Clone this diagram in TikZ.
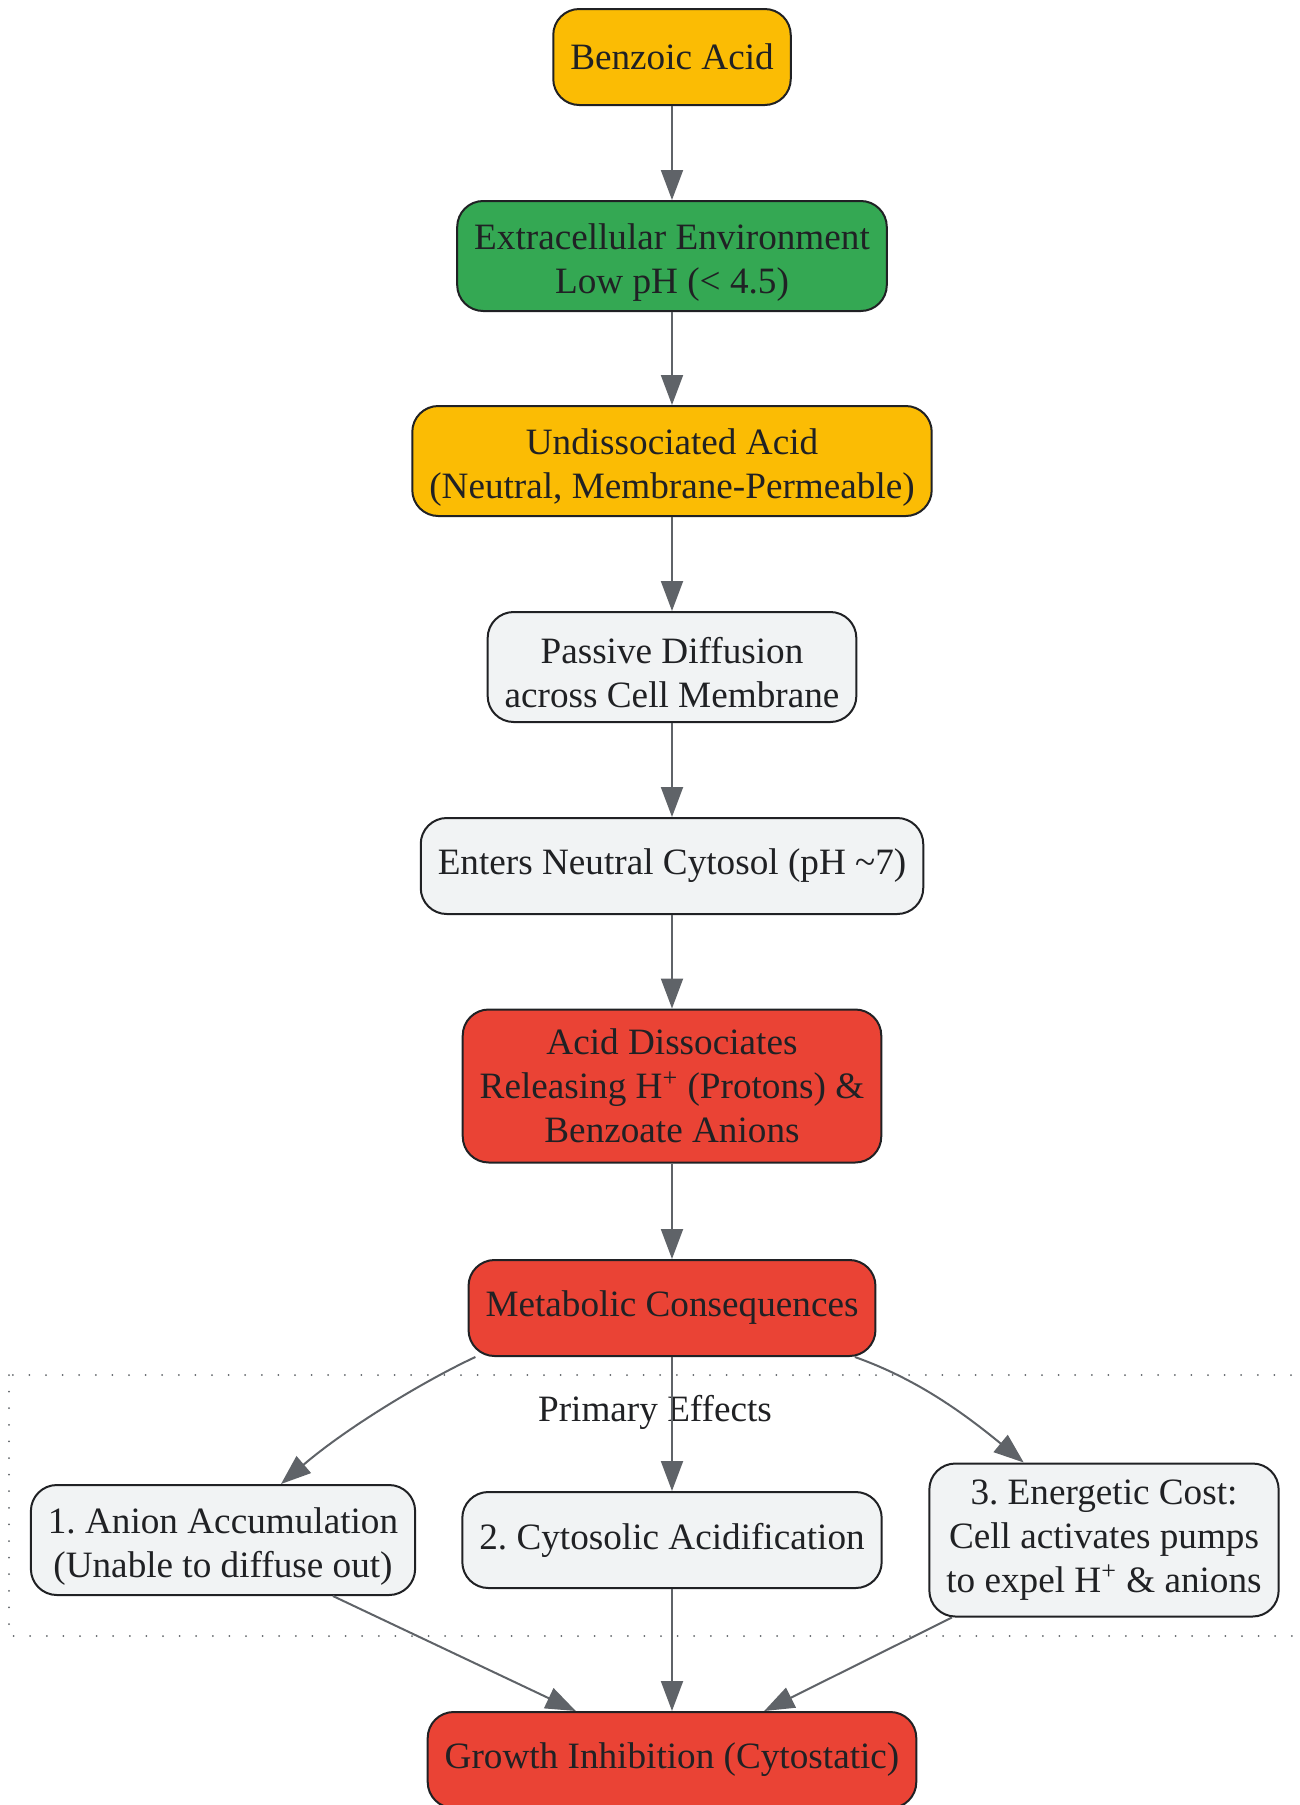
\documentclass[tikz,border=0pt]{standalone}
\usepackage{fontspec}
\setmainfont{Liberation Serif}
\usepackage{tikz}
\usetikzlibrary{arrows.meta,calc}

\definecolor{acidyellow}{HTML}{FBBC04}
\definecolor{envgreen}{HTML}{34A853}
\definecolor{alertred}{HTML}{EA4335}
\definecolor{cellgray}{HTML}{F1F3F4}
\definecolor{inkdark}{HTML}{202124}
\definecolor{edgegray}{HTML}{5F6368}

\begin{document}
\begin{tikzpicture}[x=0.5pt,y=-0.5pt,
    box/.style={draw=inkdark,line width=1pt,rounded corners=13pt,align=center,
      text=inkdark,inner xsep=8.5pt,inner ysep=2pt,font=\fontsize{18.6}{22}\selectfont\frenchspacing},
    oneline/.style={box,minimum height=48pt},
    twoline/.style={box,minimum height=55pt,text height=41pt},
    threeline/.style={box,minimum height=76.5pt},
    flow/.style={draw=edgegray,line width=1pt,-{Triangle[length=15pt,width=11pt]}}]
        \useasboundingbox (0,0) rectangle (1300,1805);

        % subgraph frame
        \draw[edgegray,line width=1pt,line cap=round,dash pattern=on 0pt off 8.3pt] (9,1375) rectangle (1302,1636);
        \node[text=inkdark,font=\fontsize{18.6}{22}\selectfont] (primlabel) at (655,1412) {Primary Effects};

        \node[oneline,fill=acidyellow] (benzoic) at (672,57) {Benzoic Acid};
        \node[twoline,fill=envgreen] (extra) at (672,256) {Extracellular Environment\\Low pH (< 4.5)};
        \node[twoline,fill=acidyellow] (undiss) at (672,461) {Undissociated Acid\\(Neutral, Membrane-Permeable)};
        \node[twoline,fill=cellgray] (passive) at (672,667) {Passive Diffusion\\across Cell Membrane};
        \node[oneline,fill=cellgray] (enters) at (672,866) {Enters Neutral Cytosol (pH \textasciitilde7)};
        \node[threeline,fill=alertred] (dissoc) at (672,1086) {Acid Dissociates\\Releasing H\textsuperscript{+} (Protons) \&\\Benzoate Anions};
        \node[oneline,fill=alertred] (metab) at (672,1308) {Metabolic Consequences};

        \node[twoline,fill=cellgray] (anion) at (223,1540) {1. Anion Accumulation\\(Unable to diffuse out)};
        \node[oneline,fill=cellgray] (cytacid) at (672,1540) {2. Cytosolic Acidification};
        \node[threeline,fill=cellgray] (energy) at (1104,1540) {3. Energetic Cost:\\Cell activates pumps\\to expel H\textsuperscript{+} \& anions};

        \node[oneline,fill=alertred] (growth) at (672,1760) {Growth Inhibition (Cytostatic)};

        \draw[flow] (benzoic) -- (extra);
        \draw[flow] (extra) -- (undiss);
        \draw[flow] (undiss) -- (passive);
        \draw[flow] (passive) -- (enters);
        \draw[flow] (enters) -- (dissoc);
        \draw[flow] (dissoc) -- (metab);

        \draw[flow] (metab.194.5) .. controls (430,1378) and (350,1425) .. (anion.44);
        \draw[flow] (metab) -- (cytacid);
        \draw[flow] (metab.345.5) .. controls (914,1378) and (960,1410) .. (energy.136);

        \draw[flow] (anion.-27) -- (growth.153);
        \draw[flow] (cytacid) -- (growth);
        \draw[flow] (energy.207) -- (growth.28);
\end{tikzpicture}
\end{document}
